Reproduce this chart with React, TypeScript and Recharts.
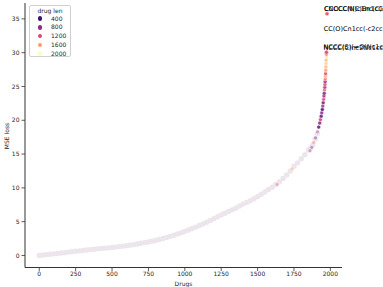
import React from 'react';
import { ScatterChart, Scatter, XAxis, YAxis, LabelList } from 'recharts';

// dense part of the sorted loss curve (points overlap into a pale band)
const BAND_IDX = [
  0, 25, 50, 75, 100, 125, 150, 175, 200, 225, 250, 275, 300, 325, 350, 375, 400, 425, 450, 475,
  500, 525, 550, 575, 600, 625, 650, 675, 700, 725, 750, 775, 800, 825, 850, 875, 900, 925, 950, 975,
  1000, 1025, 1050, 1075, 1100, 1125, 1150, 1175, 1200, 1225, 1250, 1275, 1300, 1325, 1350, 1375,
  1400, 1425, 1450, 1475, 1500, 1525, 1550, 1575, 1600, 1625, 1650, 1675, 1700, 1725, 1750, 1775,
  1800, 1825, 1850, 1865, 1880, 1895, 1910,
];
const BAND_LOSS = [
  0.0, 0.06, 0.12, 0.18, 0.24, 0.3, 0.36, 0.42, 0.5, 0.56, 0.62, 0.68, 0.74, 0.8, 0.86, 0.92, 0.98, 1.03, 1.08, 1.13,
  1.18, 1.24, 1.31, 1.38, 1.45, 1.53, 1.61, 1.7, 1.8, 1.9, 2.0, 2.12, 2.25, 2.38, 2.52, 2.67, 2.83, 3.0, 3.18, 3.37,
  3.57, 3.77, 3.98, 4.2, 4.43, 4.67, 4.92, 5.18, 5.45, 5.72, 6.0, 6.25, 6.5, 6.75, 7.0, 7.3,
  7.6, 7.85, 8.1, 8.4, 8.7, 9.05, 9.4, 9.75, 10.1, 10.5, 10.9, 11.4, 11.9, 12.5, 13.2, 13.7,
  14.3, 14.9, 15.6, 15.9, 16.4, 17.2, 18.0,
];

// sparse points at the top of the curve, coloured by drug length
const TOP_IDX = [
  1634, 1737, 1860, 1872, 1885, 1898, 1912, 1920, 1927, 1932, 1937, 1941, 1945, 1948, 1951, 1954,
  1956, 1958, 1960, 1962, 1963, 1964, 1965, 1966, 1967, 1968, 1969, 1970, 1971, 1972, 1973,
];
const TOP_LOSS = [
  10.5, 12.8, 15.5, 16.0, 16.7, 17.4, 18.3, 19.0, 19.6, 20.1, 20.6, 21.1, 21.6, 22.1, 22.6, 23.1,
  23.6, 24.0, 24.5, 24.9, 25.3, 25.7, 26.1, 26.5, 26.9, 27.4, 27.9, 28.4, 28.9, 29.4, 29.8,
];
const TOP_LEN = [
  1300, 1600, 1000, 700, 1400, 600, 900, 500, 700, 1100, 500, 800, 400, 900, 600, 1200,
  800, 700, 1300, 900, 1200, 800, 1400, 1700, 1200, 1600, 1700, 1800, 1700, 1900, 1300,
];

// annotated outliers
const ANN_IDX = [1978, 1977, 1975, 1974, 1973];
const ANN_LOSS = [35.8, 35.75, 32.9, 30.1, 30.05];
const ANN_LEN = [1300, 1250, 2000, 1250, 1200];
const ANN_TEXT = [
  'CCOCCN(C)Bn1cC(C)=O',
  'CNCCC(N)c1nc(C)c',
  'CC(O)Cn1cc(-c2ccccc2)',
  'NCCC(S)(=O)Nc1ccc',
  'NCCC(C)nc2Nc1ccc',
];

const LEGEND_LEN = [400, 800, 1200, 1600, 2000];
const X_TICKS = [0, 250, 500, 750, 1000, 1250, 1500, 1750, 2000];
const Y_TICKS = [0, 5, 10, 15, 20, 25, 30, 35];

const MAGMA = [
  '#000004', '#140e36', '#3b0f70', '#641a80', '#8c2981', '#b73779',
  '#de4968', '#f7705c', '#fe9f6d', '#fecf92', '#fcfdbf',
];

function hex(c: string) {
  return [1, 3, 5].map(i => parseInt(c.slice(i, i + 2), 16));
}

function magma(len: number) {
  const t = Math.max(0, Math.min(1, len / 2000)) * (MAGMA.length - 1);
  const i = Math.min(Math.floor(t), MAGMA.length - 2);
  const f = t - i;
  const a = hex(MAGMA[i]);
  const b = hex(MAGMA[i + 1]);
  const c = a.map((v, k) => Math.round(v + (b[k] - v) * f));
  return `rgb(${c[0]},${c[1]},${c[2]})`;
}

const FONT = 'DejaVu Sans, sans-serif';
const TXT = '#262626';

const bandData = BAND_IDX.map((x, i) => ({ x, y: BAND_LOSS[i] }));
const topData = TOP_IDX.map((x, i) => ({ x, y: TOP_LOSS[i], color: magma(TOP_LEN[i]) }));
const annData = ANN_IDX.map((x, i) => ({ x, y: ANN_LOSS[i], color: magma(ANN_LEN[i]), text: ANN_TEXT[i] }));

const bandDot = (p: any) => <circle cx={p.cx} cy={p.cy} r={2.7} fill="#ece5ec" />;
// lower tail points still sit in the crowded band, so they read fainter
const colorDot = (p: any) => (
  <circle
    cx={p.cx}
    cy={p.cy}
    r={1.9}
    fill={p.payload.color}
    fillOpacity={p.payload.y < 19 ? 0.4 : 0.85}
    stroke="#fff"
    strokeWidth={0.4}
  />
);

const annLabel = (p: any) => (
  <text x={p.x + 1.5} y={p.y} fontSize={6.5} fontFamily={FONT} fill="#000" dominantBaseline="central">
    {p.value}
  </text>
);

export default function App() {
  const tick = { fontSize: 6, fontFamily: FONT, fill: TXT };
  return (
    <div style={{ position: 'absolute', left: 0, top: 0, width: 383, height: 287, background: '#fff' }}>
      <ScatterChart width={383} height={287} margin={{ top: 3, right: 41, bottom: 0, left: 0 }}>
        <XAxis
          xAxisId="b"
          type="number"
          dataKey="x"
          domain={[-98, 2080]}
          ticks={X_TICKS}
          allowDataOverflow
          height={19.5}
          tick={tick}
          tickSize={3.5}
          tickMargin={1}
          stroke="#333"
          tickLine={{ stroke: '#333', strokeWidth: 0.8 }}
          axisLine={{ stroke: '#333', strokeWidth: 1 }}
          label={{ value: 'Drugs', position: 'insideBottom', offset: 1.5, fontSize: 6, fontFamily: FONT, fill: TXT }}
        />
        <XAxis
          xAxisId="t"
          orientation="top"
          type="number"
          dataKey="x"
          domain={[-98, 2080]}
          allowDataOverflow
          height={0}
          tick={false}
          tickLine={false}
          axisLine={{ stroke: '#333', strokeWidth: 1 }}
        />
        <YAxis
          yAxisId="l"
          type="number"
          dataKey="y"
          domain={[-1.78, 37.35]}
          ticks={Y_TICKS}
          allowDataOverflow
          width={25}
          tick={tick}
          tickSize={3.5}
          tickMargin={2}
          tickLine={{ stroke: '#333', strokeWidth: 0.8 }}
          axisLine={{ stroke: '#333', strokeWidth: 1 }}
          label={{
            content: () => (
              <text
                x={6}
                y={136}
                transform="rotate(-90, 6, 136)"
                textAnchor="middle"
                dominantBaseline="central"
                fontSize={6}
                fontFamily={FONT}
                fill={TXT}
              >
                MSE loss
              </text>
            ),
          }}
        />
        <YAxis
          yAxisId="r"
          orientation="right"
          type="number"
          dataKey="y"
          domain={[-1.78, 37.35]}
          allowDataOverflow
          width={0}
          tick={false}
          tickLine={false}
          axisLine={{ stroke: '#333', strokeWidth: 1 }}
        />
        <Scatter xAxisId="b" yAxisId="l" data={bandData} shape={bandDot} isAnimationActive={false} />
        <Scatter xAxisId="b" yAxisId="l" data={topData} shape={colorDot} isAnimationActive={false} />
        <Scatter xAxisId="b" yAxisId="l" data={annData} shape={colorDot} isAnimationActive={false}>
          <LabelList dataKey="text" content={annLabel} />
        </Scatter>
      </ScatterChart>

      <div
        style={{
          position: 'absolute',
          left: 29,
          top: 5,
          width: 42,
          height: 52,
          border: '0.8px solid #d0d0d0',
          borderRadius: 2,
          background: 'rgba(255,255,255,0.8)',
          fontFamily: FONT,
          fontSize: 6,
          color: TXT,
          boxSizing: 'border-box',
        }}
      >
        <div style={{ position: 'absolute', left: 0, right: 0, top: 0.5, textAlign: 'center', lineHeight: '8px' }}>
          drug len
        </div>
        {LEGEND_LEN.map((len, i) => (
          <div key={len} style={{ position: 'absolute', left: 0, top: 8.5 + i * 8.8, height: 8, width: 40 }}>
            <span
              style={{
                position: 'absolute',
                left: 7.5,
                top: 1.7,
                width: 4.6,
                height: 4.6,
                borderRadius: '50%',
                background: magma(len),
              }}
            />
            <span style={{ position: 'absolute', left: 21, top: 0, lineHeight: '8px' }}>{len}</span>
          </div>
        ))}
      </div>
    </div>
  );
}
